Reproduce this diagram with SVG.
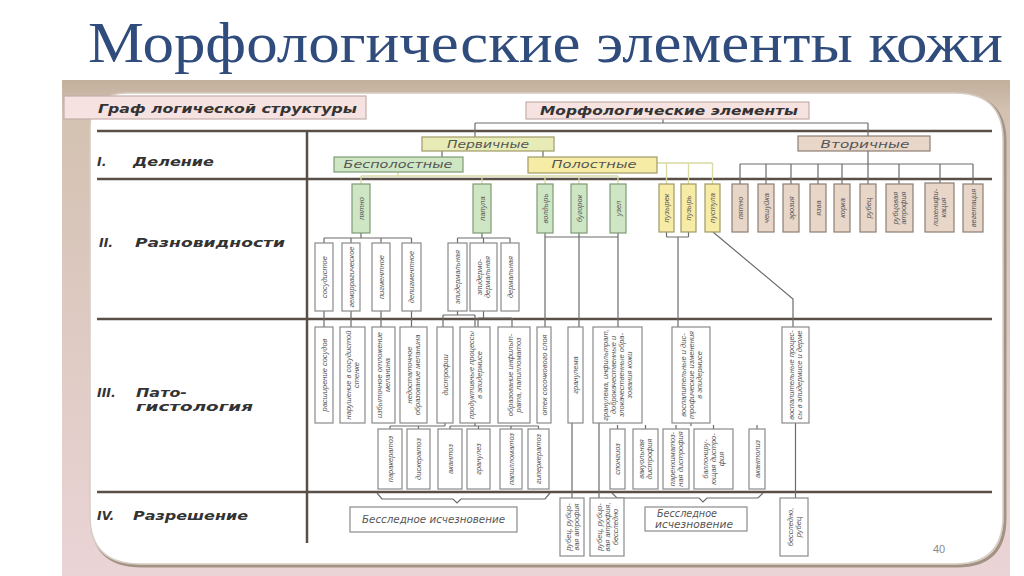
<svg xmlns="http://www.w3.org/2000/svg" width="1024" height="576" viewBox="0 0 1024 576">
<defs>
<linearGradient id="frame" x1="0" y1="0" x2="0" y2="1">
<stop offset="0" stop-color="#c2af9c"/>
<stop offset="0.06" stop-color="#d3c1b1"/>
<stop offset="1" stop-color="#ebd4d6"/>
</linearGradient>
<style>
.row{stroke:#5a4f47;stroke-width:2.5;fill:none}
.c{stroke:#6c6c6c;stroke-width:1.2;fill:none}
.cp{stroke:#d9d9a2;stroke-width:1.3;fill:none}
.b{fill:#fff;stroke:#8a8a8a;stroke-width:1.2}
.g{fill:#cfe6c4;stroke:#7e9a77;stroke-width:1.2}
.y{fill:#f6eca6;stroke:#a09a68;stroke-width:1.2}
.t{fill:#e8d6c8;stroke:#8c7e74;stroke-width:1.2}
.lbl{fill:#f6e2e0;stroke:#c4aeab;stroke-width:1.2}
.v{font-family:"Liberation Sans",Arial,sans-serif;font-style:italic;font-size:7.5px;fill:#555;text-anchor:middle}
.h{font-family:"DejaVu Sans",Verdana,sans-serif;font-weight:bold;font-style:italic;font-size:12.5px;fill:#333}
.m{font-family:"DejaVu Sans",Verdana,sans-serif;font-style:italic;font-size:11px;fill:#555;text-anchor:middle}
.r{font-family:"DejaVu Sans",Verdana,sans-serif;font-style:italic;font-size:10px;fill:#555}
</style>
</defs>
<rect width="1024" height="576" fill="#fff"/>
<text x="88" y="62" font-family="Liberation Serif,'Times New Roman',serif" font-size="56" fill="#2f4c7c" textLength="915" lengthAdjust="spacingAndGlyphs">Морфологические элементы кожи</text>
<rect x="62" y="80" width="948" height="496" fill="url(#frame)"/>
<path d="M92 130 Q92 95 130 95 L957 95 Q1005 95 1005 142 L1005 518 Q1005 566 957 566 L142 566 Q92 566 92 518 Z" fill="none" stroke="#a39385" stroke-width="3"/>
<path d="M90 128 Q90 93 128 93 L955 93 Q1003 93 1003 140 L1003 516 Q1003 564 955 564 L140 564 Q90 564 90 516 Z" fill="#fff" stroke="#d6cdc4" stroke-width="1.5"/>
<text x="933" y="553" font-family="Liberation Sans,Arial,sans-serif" font-size="11" fill="#8a8a8a">40</text>

<g id="header">
<rect class="lbl" x="64" y="96" width="302" height="23"/>
<text class="h" x="98" y="113" textLength="259" lengthAdjust="spacingAndGlyphs">Граф логической структуры</text>
</g>

<g id="grid">
<line class="row" x1="97" y1="131" x2="992" y2="131"/>
<line class="row" x1="97" y1="179" x2="992" y2="179"/>
<line class="row" x1="97" y1="319" x2="992" y2="319"/>
<line class="row" x1="97" y1="492" x2="992" y2="492"/>
<line class="row" x1="307" y1="131" x2="307" y2="543"/>
<text class="h" x="97" y="166">I.</text>
<text class="h" x="133" y="166" textLength="81" lengthAdjust="spacingAndGlyphs">Деление</text>
<text class="h" x="99" y="247">II.</text>
<text class="h" x="135" y="247" textLength="150" lengthAdjust="spacingAndGlyphs">Разновидности</text>
<text class="h" x="97" y="397">III.</text>
<text class="h" x="136" y="397" textLength="51" lengthAdjust="spacingAndGlyphs">Пато-</text>
<text class="h" x="136" y="411" textLength="117" lengthAdjust="spacingAndGlyphs">гистология</text>
<text class="h" x="97" y="520">IV.</text>
<text class="h" x="133" y="520" textLength="115" lengthAdjust="spacingAndGlyphs">Разрешение</text>
</g>

<g id="connectors">
<path class="c" d="M663 119V123M475 123H868M475 123V137M868 123V136"/>
<path class="c" d="M442 151V157M543 151V157"/>
<path class="c" d="M868 151V164M740 164H973M740 164V184M766 164V184M791 164V184M818 164V184M842 164V184M868 164V184M899 164V184M940 164V184M973 164V184"/>
<path class="cp" d="M398 172V176M361 176H618M361 176V184M482 176V184M545 176V184M579 176V184M618 176V184"/>
<path class="cp" d="M657 163H712.5M666.5 163V184M688.5 163V184M712.5 163V184"/>
<path class="c" d="M361 233V238M324 238H411.5M324 238V243M351 238V243M381 238V243M411.5 238V243"/>
<path class="c" d="M482 233V238M457.5 238H510M457.5 238V243M483.5 238V243M510 238V243"/>
<path class="c" d="M324 311V327M351 311V327M381 311V327M411.5 311V327"/>
<path class="c" d="M457.5 311V315M443 315H475M443 315V327M475 315V327M483.5 311V318M478 318H512M478 318V327M512 318V327"/>
<path class="c" d="M545 233V237M579 233V237M618 233V237M545 237H618M545 237V327M579 237V327M618 237V327"/>
<path class="c" d="M666.5 232V237M688.5 232V237M666.5 237H688.5M678 237V327"/>
<path class="c" d="M713 232L793 299V327"/>
<path class="c" d="M445 423V426M390 426H445M390 426V429M418.5 426V429"/>
<path class="c" d="M475 423V426M450 426H538.5M450 426V429M478.5 426V429M511 426V429M538.5 426V429"/>
<path class="c" d="M617.5 425V429M645.5 425V429M676 425V429M691 423V426M713.5 425V429M757 425V429"/>
<path class="c" d="M572 423V498M599 423V498M795.5 423V498"/>
<path class="c" d="M377 493L382 499H453L457 503L461 499H545L550 493"/>
<path class="c" d="M612 493L617 498H699L703 502L707 498H758L763 493"/>
</g>

<g id="n-morph"><rect class="lbl" x="526" y="102" width="283" height="17"/><text class="h" x="540" y="115" textLength="258" lengthAdjust="spacingAndGlyphs">Морфологические элементы</text></g>
<g id="n-primary"><rect class="y" style="fill:#e7ecb6" x="422" y="137" width="132" height="14"/><text class="m" x="488" y="148" textLength="82" lengthAdjust="spacingAndGlyphs">Первичные</text></g>
<g id="n-secondary"><rect class="t" x="798" y="136" width="132" height="15"/><text class="m" x="865" y="148" textLength="89" lengthAdjust="spacingAndGlyphs">Вторичные</text></g>
<g id="n-nocav"><rect class="g" x="334" y="157" width="129" height="15"/><text class="m" x="398" y="168" textLength="109" lengthAdjust="spacingAndGlyphs">Бесполостные</text></g>
<g id="n-cav"><rect class="y" x="528" y="157" width="129" height="16"/><text class="m" x="594" y="168" textLength="85" lengthAdjust="spacingAndGlyphs">Полостные</text></g>

<g id="n-g1"><rect class="g" x="352" y="184" width="18" height="49"/><text class="v" transform="translate(361 208.5) rotate(-90)" y="2.7">пятно</text></g>
<g id="n-g2"><rect class="g" x="473" y="184" width="18" height="49"/><text class="v" transform="translate(482 208.5) rotate(-90)" y="2.7">папула</text></g>
<g id="n-g3"><rect class="g" x="537" y="184" width="16" height="49"/><text class="v" transform="translate(545 208.5) rotate(-90)" y="2.7">волдырь</text></g>
<g id="n-g4"><rect class="g" x="571" y="184" width="16" height="49"/><text class="v" transform="translate(579 208.5) rotate(-90)" y="2.7">бугорок</text></g>
<g id="n-g5"><rect class="g" x="610" y="184" width="16" height="49"/><text class="v" transform="translate(618 208.5) rotate(-90)" y="2.7">узел</text></g>
<g id="n-y1"><rect class="y" x="659" y="184" width="15" height="48"/><text class="v" transform="translate(666.5 208) rotate(-90)" y="2.7">пузырек</text></g>
<g id="n-y2"><rect class="y" x="681" y="184" width="15" height="48"/><text class="v" transform="translate(688.5 208) rotate(-90)" y="2.7">пузырь</text></g>
<g id="n-y3"><rect class="y" x="705" y="184" width="15" height="48"/><text class="v" transform="translate(712.5 208) rotate(-90)" y="2.7">пустула</text></g>
<g id="n-t1"><rect class="t" x="732" y="184" width="16" height="48"/><text class="v" transform="translate(740 208) rotate(-90)" y="2.7">пятно</text></g>
<g id="n-t2"><rect class="t" x="758" y="184" width="16" height="48"/><text class="v" transform="translate(766 208) rotate(-90)" y="2.7">чешуйка</text></g>
<g id="n-t3"><rect class="t" x="783" y="184" width="16" height="48"/><text class="v" transform="translate(791 208) rotate(-90)" y="2.7">эрозия</text></g>
<g id="n-t4"><rect class="t" x="810" y="184" width="16" height="48"/><text class="v" transform="translate(818 208) rotate(-90)" y="2.7">язва</text></g>
<g id="n-t5"><rect class="t" x="834" y="184" width="16" height="48"/><text class="v" transform="translate(842 208) rotate(-90)" y="2.7">корка</text></g>
<g id="n-t6"><rect class="t" x="860" y="184" width="16" height="48"/><text class="v" transform="translate(868 208) rotate(-90)" y="2.7">рубец</text></g>
<g id="n-t7"><rect class="t" x="886" y="184" width="27" height="48"/><text class="v" transform="translate(899.5 208) rotate(-90)"><tspan x="0" y="-1.3">рубцовая</tspan><tspan x="0" y="6.7">атрофия</tspan></text></g>
<g id="n-t8"><rect class="t" x="925" y="183" width="29" height="49"/><text class="v" transform="translate(939.5 207.5) rotate(-90)"><tspan x="0" y="-1.3">лихенифи-</tspan><tspan x="0" y="6.7">кация</tspan></text></g>
<g id="n-t9"><rect class="t" x="963" y="184" width="20" height="48"/><text class="v" transform="translate(973 208) rotate(-90)" y="2.7">вегетация</text></g>

<g id="n-s1"><rect class="b" x="315" y="243" width="18" height="68"/><text class="v" transform="translate(324 277) rotate(-90)" y="2.7">сосудистое</text></g>
<g id="n-s2"><rect class="b" x="342" y="243" width="18" height="68"/><text class="v" transform="translate(351 277) rotate(-90)" y="2.7">геморрагическое</text></g>
<g id="n-s3"><rect class="b" x="372" y="243" width="18" height="68"/><text class="v" transform="translate(381 277) rotate(-90)" y="2.7">пигментное</text></g>
<g id="n-s4"><rect class="b" x="402" y="243" width="19" height="68"/><text class="v" transform="translate(411.5 277) rotate(-90)" y="2.7">депигментное</text></g>
<g id="n-s5"><rect class="b" x="448" y="243" width="19" height="68"/><text class="v" transform="translate(457.5 277) rotate(-90)" y="2.7">эпидермальная</text></g>
<g id="n-s6"><rect class="b" x="470" y="243" width="27" height="68"/><text class="v" transform="translate(483.5 277) rotate(-90)"><tspan x="0" y="-1.3">эпидермо-</tspan><tspan x="0" y="6.7">дермальная</tspan></text></g>
<g id="n-s7"><rect class="b" x="501" y="243" width="18" height="68"/><text class="v" transform="translate(510 277) rotate(-90)" y="2.7">дермальная</text></g>

<g id="n-r1"><rect class="b" x="315" y="327" width="18" height="96"/><text class="v" transform="translate(324 375) rotate(-90)" y="2.7">расширение сосудов</text></g>
<g id="n-r2"><rect class="b" x="340" y="327" width="25" height="96"/><text class="v" transform="translate(352.5 375) rotate(-90)"><tspan x="0" y="-1.3">нарушение в сосудистой</tspan><tspan x="0" y="6.7">стенке</tspan></text></g>
<g id="n-r3"><rect class="b" x="372" y="327" width="23" height="96"/><text class="v" transform="translate(383.5 375) rotate(-90)"><tspan x="0" y="-1.3">избыточное отложение</tspan><tspan x="0" y="6.7">меланина</tspan></text></g>
<g id="n-r4"><rect class="b" x="400" y="327" width="27" height="96"/><text class="v" transform="translate(413.5 375) rotate(-90)"><tspan x="0" y="-1.3">недостаточное</tspan><tspan x="0" y="6.7">образование меланина</tspan></text></g>
<g id="n-r5"><rect class="b" x="437" y="327" width="16" height="96"/><text class="v" transform="translate(445 375) rotate(-90)" y="2.7">дистрофии</text></g>
<g id="n-r6"><rect class="b" x="460" y="327" width="30" height="96"/><text class="v" transform="translate(475 375) rotate(-90)"><tspan x="0" y="-1.3">продуктивные процессы</tspan><tspan x="0" y="6.7">в эпидермисе</tspan></text></g>
<g id="n-r7"><rect class="b" x="498" y="327" width="32" height="96"/><text class="v" transform="translate(514 375) rotate(-90)"><tspan x="0" y="-1.3">образование инфильт-</tspan><tspan x="0" y="6.7">рата, папилломатоз</tspan></text></g>
<g id="n-r8"><rect class="b" x="537" y="327" width="14" height="96"/><text class="v" transform="translate(544 375) rotate(-90)" y="2.7">отек сосочкового слоя</text></g>
<g id="n-r9"><rect class="b" x="568" y="327" width="15" height="96"/><text class="v" transform="translate(575.5 375) rotate(-90)" y="2.7">гранулема</text></g>
<g id="n-r10"><rect class="b" x="593" y="327" width="49" height="96"/><text class="v" transform="translate(617.5 375) rotate(-90)"><tspan x="0" y="-9.3">гранулема, инфильтрат,</tspan><tspan x="0" y="-1.3">доброкачественные и</tspan><tspan x="0" y="6.7">злокачественные обра-</tspan><tspan x="0" y="14.7">зования кожи</tspan></text></g>
<g id="n-r11"><rect class="b" x="672" y="327" width="38" height="96"/><text class="v" transform="translate(691 375) rotate(-90)"><tspan x="0" y="-5.3">воспалительные и дис-</tspan><tspan x="0" y="2.7">трофические изменения</tspan><tspan x="0" y="10.7">в эпидермисе</tspan></text></g>
<g id="n-r12"><rect class="b" x="782" y="327" width="27" height="96"/><text class="v" transform="translate(795.5 375) rotate(-90)"><tspan x="0" y="-1.3">воспалительные процес-</tspan><tspan x="0" y="6.7">сы в эпидермисе и дерме</tspan></text></g>

<g id="n-u1"><rect class="b" x="378" y="429" width="24" height="60"/><text class="v" transform="translate(390 459) rotate(-90)" y="2.7">паракератоз</text></g>
<g id="n-u2"><rect class="b" x="407" y="429" width="23" height="60"/><text class="v" transform="translate(418.5 459) rotate(-90)" y="2.7">дискератоз</text></g>
<g id="n-u3"><rect class="b" x="438" y="429" width="24" height="60"/><text class="v" transform="translate(450 459) rotate(-90)" y="2.7">акантоз</text></g>
<g id="n-u4"><rect class="b" x="467" y="429" width="23" height="60"/><text class="v" transform="translate(478.5 459) rotate(-90)" y="2.7">гранулез</text></g>
<g id="n-u5"><rect class="b" x="500" y="429" width="22" height="60"/><text class="v" transform="translate(511 459) rotate(-90)" y="2.7">папилломатоз</text></g>
<g id="n-u6"><rect class="b" x="528" y="429" width="21" height="60"/><text class="v" transform="translate(538.5 459) rotate(-90)" y="2.7">гиперкератоз</text></g>
<g id="n-u7"><rect class="b" x="610" y="429" width="15" height="60"/><text class="v" transform="translate(617.5 459) rotate(-90)" y="2.7">спонгиоз</text></g>
<g id="n-u8"><rect class="b" x="633" y="429" width="25" height="60"/><text class="v" transform="translate(645.5 459) rotate(-90)"><tspan x="0" y="-1.3">вакуольная</tspan><tspan x="0" y="6.7">дистрофия</tspan></text></g>
<g id="n-u9"><rect class="b" x="663" y="429" width="26" height="60"/><text class="v" transform="translate(676 459) rotate(-90)"><tspan x="0" y="-1.3">паренхиматоз-</tspan><tspan x="0" y="6.7">ная дистрофия</tspan></text></g>
<g id="n-u10"><rect class="b" x="694" y="429" width="39" height="60"/><text class="v" transform="translate(713.5 459) rotate(-90)"><tspan x="0" y="-5.3">баллониру-</tspan><tspan x="0" y="2.7">ющая дистро-</tspan><tspan x="0" y="10.7">фия</tspan></text></g>
<g id="n-u11"><rect class="b" x="749" y="429" width="16" height="60"/><text class="v" transform="translate(757 459) rotate(-90)" y="2.7">акантолиз</text></g>

<g id="n-w1"><rect class="b" x="560" y="498" width="24" height="58"/><text class="v" transform="translate(572 527) rotate(-90)"><tspan x="0" y="-1.3">рубец, рубцо-</tspan><tspan x="0" y="6.7">вая атрофия</tspan></text></g>
<g id="n-w2"><rect class="b" x="590" y="498" width="34" height="58"/><text class="v" transform="translate(607 527) rotate(-90)"><tspan x="0" y="-5.3">рубец, рубцо-</tspan><tspan x="0" y="2.7">вая атрофия,</tspan><tspan x="0" y="10.7">бесследно</tspan></text></g>
<g id="n-w3"><rect class="b" x="780" y="498" width="28" height="58"/><text class="v" transform="translate(794 527) rotate(-90)"><tspan x="0" y="-1.3">бесследно,</tspan><tspan x="0" y="6.7">рубец</tspan></text></g>
<g id="n-h1"><rect class="b" x="350" y="507" width="167" height="25"/><text class="r" x="362" y="523" textLength="143" lengthAdjust="spacingAndGlyphs">Бесследное исчезновение</text></g>
<g id="n-h2"><rect class="b" x="645" y="507" width="102" height="24"/><text class="r" x="657" y="517" textLength="60" lengthAdjust="spacingAndGlyphs">Бесследное</text><text class="r" x="655" y="528" textLength="78" lengthAdjust="spacingAndGlyphs">исчезновение</text></g>
</svg>
